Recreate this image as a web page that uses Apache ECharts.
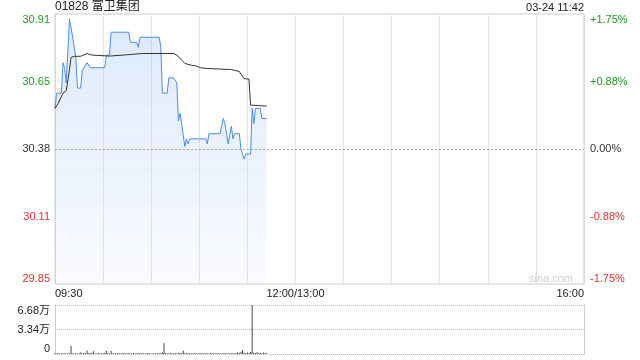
<!DOCTYPE html>
<html><head><meta charset="utf-8">
<script src="https://cdn.jsdelivr.net/npm/echarts@6/dist/echarts.min.js"></script>
<style>html,body{margin:0;padding:0;background:#fff}#c{width:640px;height:360px}</style>
</head><body><div id="c"></div>
<script>
const titleText = '01828 富卫集团';
const stampText = '03-24 11:42';
const prevClose = 30.38;
const priceLabels = ['29.85', '30.11', '30.38', '30.65', '30.91'];
const pctLabels = ['-1.75%', '-0.88%', '0.00%', '+0.88%', '+1.75%'];
const timeTicks = ['09:30', '12:00', '16:00'];
const timeTickLabels = ['09:30', '12:00/13:00', '16:00'];
const volLabels = ['0', '3.34万', '6.68万'];
const volMax = 66800;

const priceTimes = ['09:30','09:31','09:34','09:35','09:36','09:37','09:39','09:40','09:41','09:43','09:44','09:46','09:47','09:48','09:50','09:51','09:52','10:01','10:02','10:04','10:05','10:16','10:17','10:21','10:22','10:23','10:35','10:36','10:37','10:40','10:41','10:44','10:46','10:47','10:48','10:49','10:51','10:52','10:53','10:54','11:04','11:05','11:06','11:13','11:15','11:16','11:17','11:18','11:20','11:21','11:22','11:25','11:26','11:27','11:28','11:29','11:32','11:33','11:34','11:35','11:38','11:39','11:42'];
const prices = [30.54,30.60,30.60,30.72,30.70,30.64,30.89,30.86,30.86,30.74,30.62,30.62,30.69,30.69,30.72,30.72,30.70,30.70,30.75,30.75,30.84,30.84,30.80,30.80,30.78,30.82,30.82,30.78,30.60,30.60,30.66,30.66,30.64,30.49,30.52,30.48,30.39,30.42,30.40,30.42,30.42,30.40,30.44,30.44,30.50,30.48,30.48,30.40,30.47,30.42,30.44,30.44,30.38,30.38,30.34,30.36,30.36,30.54,30.48,30.54,30.54,30.50,30.50];

const avgTimes = ['09:30','09:32','09:33','09:35','09:37','09:39','09:40','09:42','09:46','09:50','09:51','09:53','10:04','10:17','10:24','10:44','10:46','10:47','10:49','10:51','10:55','10:58','11:01','11:05','11:20','11:25','11:26','11:28','11:31','11:32','11:42'];
const avgPrices = [30.54,30.56,30.56,30.60,30.61,30.69,30.74,30.745,30.745,30.756,30.756,30.75,30.746,30.752,30.756,30.756,30.75,30.745,30.73,30.717,30.71,30.707,30.70,30.697,30.693,30.685,30.675,30.657,30.655,30.553,30.549];

const volStart = '09:30';
const volumes = [1500,800,1200,600,900,700,1100,800,600,1000,10900,900,700,1200,800,1000,2200,900,1800,1400,4800,1200,900,1600,3800,1000,800,1300,700,1100,900,1500,4500,1200,800,4000,1100,700,1300,900,1000,800,1400,1200,700,900,1500,800,1100,1300,600,900,1400,1000,700,1200,800,1000,1300,900,700,1100,800,1200,900,1000,1300,2000,14500,1500,1100,800,1300,900,1000,1200,700,1400,1800,1100,4500,1300,900,1000,1500,800,1100,900,1200,700,1000,1300,800,900,1100,1000,700,1200,900,1000,800,1300,900,1100,700,1000,1200,800,900,1100,1000,1300,800,1200,2500,1400,3000,5500,1600,1200,2200,1500,2800,66500,2000,1500,2400,1200,1800,1000,2100,1300,1100];

function toMin(t) {
  const [h, m] = t.split(':').map(Number);
  let v = h * 60 + m - 570;
  if (h * 60 + m >= 780) v -= 60;
  return v;
}
const pct = p => (p / prevClose - 1) * 100;
const FONT = '"Liberation Sans", Arial, "Noto Sans CJK SC", sans-serif';
const GREEN = '#1e9e1e', RED = '#e8312f', DARK = '#333';
const labelColors = [RED, RED, DARK, GREEN, GREEN];
const tickMins = timeTicks.map(toMin);
const pctIdx = v => Math.round(v / 0.875) + 2;

const priceData = priceTimes.map((t, i) => [toMin(t), pct(prices[i])]);
const avgData = avgTimes.map((t, i) => [toMin(t), pct(avgPrices[i])]);
const volData = volumes.map((v, i) => [toMin(volStart) + i, v]);

const chart = echarts.init(document.getElementById('c'), null, {renderer: 'canvas'});
chart.setOption({
  animation: false,
  textStyle: {fontFamily: FONT},
  grid: [
    {left: 55, right: 56, top: 14, height: 270, show: true, borderColor: '#ccc', borderWidth: 1},
    {left: 55, right: 56, top: 305, height: 49, show: false}
  ],
  graphic: [
    {type: 'text', left: 55, top: 1, style: {text: titleText, font: '12px ' + FONT, fill: '#222'}},
    {type: 'text', right: 56, top: 2, style: {text: stampText, font: '11px ' + FONT, fill: '#222'}},
    {type: 'text', right: 67, top: 273, style: {text: 'sina.com', font: '11px ' + FONT, fill: '#cfcfcf'}}
  ],
  xAxis: [
    {type: 'value', gridIndex: 0, min: 0, max: 330, interval: 30,
     axisLine: {show: false}, axisTick: {show: false},
     splitLine: {show: true, lineStyle: {color: '#cfcfcf', type: 'dotted'}},
     axisLabel: {fontSize: 11, color: '#222', margin: 4,
       alignMinLabel: 'left', alignMaxLabel: 'right',
       formatter: v => { const k = tickMins.indexOf(v); return k >= 0 ? timeTickLabels[k] : ''; }}},
    {type: 'value', gridIndex: 1, min: 0, max: 330, interval: 30,
     axisLine: {show: false}, axisTick: {show: false}, axisLabel: {show: false}, splitLine: {show: false}}
  ],
  yAxis: [
    {type: 'value', gridIndex: 0, min: -1.75, max: 1.75, interval: 0.875,
     axisLine: {show: false}, axisTick: {show: false}, splitLine: {show: false},
     axisLabel: {fontSize: 11, margin: 5, verticalAlignMaxLabel: 'top', verticalAlignMinLabel: 'bottom',
       formatter: v => priceLabels[pctIdx(v)], color: v => labelColors[pctIdx(v)]}},
    {type: 'value', gridIndex: 0, position: 'right', min: -1.75, max: 1.75, interval: 0.875,
     axisLine: {show: false}, axisTick: {show: false}, splitLine: {show: false},
     axisLabel: {fontSize: 11, margin: 6, verticalAlignMaxLabel: 'top', verticalAlignMinLabel: 'bottom',
       formatter: v => pctLabels[pctIdx(v)], color: v => labelColors[pctIdx(v)]}},
    {type: 'value', gridIndex: 1, min: 0, max: volMax, interval: volMax / 2,
     axisLine: {show: true, lineStyle: {color: '#ccc'}}, axisTick: {show: false},
     splitLine: {show: true, lineStyle: {color: '#bbb', type: 'dotted'}},
     axisLabel: {fontSize: 11, color: '#222', margin: 5, verticalAlignMaxLabel: 'top', verticalAlignMinLabel: 'bottom',
       formatter: v => volLabels[Math.round(v / (volMax / 2))]}},
    {type: 'value', gridIndex: 1, position: 'right', min: 0, max: volMax, interval: volMax / 2,
     axisLine: {show: true, lineStyle: {color: '#ccc'}}, axisTick: {show: false},
     splitLine: {show: false}, axisLabel: {show: false}}
  ],
  series: [
    {type: 'line', xAxisIndex: 0, yAxisIndex: 0, data: priceData, symbol: 'none',
     lineStyle: {color: '#4a8cf0', width: 1},
     areaStyle: {origin: 'start', color: new echarts.graphic.LinearGradient(0, 0, 0, 1, [
       {offset: 0, color: 'rgba(74,140,240,0.27)'}, {offset: 1, color: 'rgba(74,140,240,0.04)'}])},
     markLine: {silent: true, symbol: 'none', label: {show: false},
       lineStyle: {color: '#aaa', type: [2, 2], width: 1}, data: [{yAxis: 0}]}},
    {type: 'line', xAxisIndex: 0, yAxisIndex: 0, data: avgData, symbol: 'none',
     lineStyle: {color: '#333', width: 1}},
    {type: 'bar', xAxisIndex: 1, yAxisIndex: 2, data: volData, barWidth: 1,
     itemStyle: {color: '#444'}}
  ]
});
</script></body></html>
